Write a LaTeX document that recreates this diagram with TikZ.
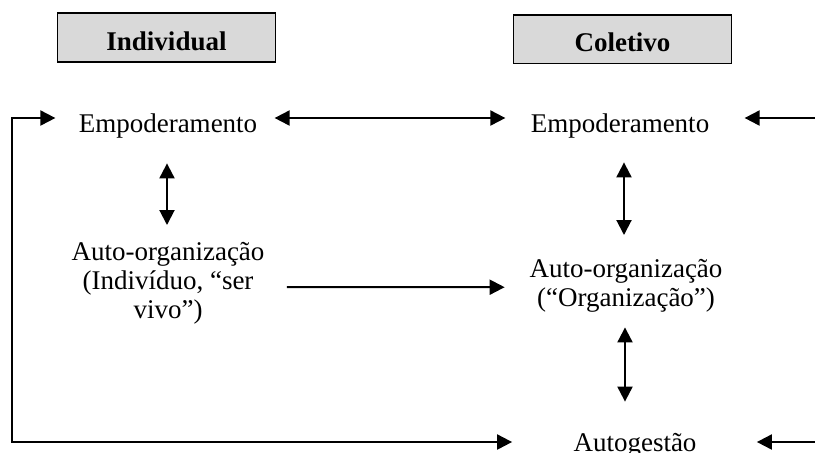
\documentclass[tikz,border=0pt]{standalone}
\usepackage{fontspec}
\setmainfont{Liberation Serif}
\usetikzlibrary{arrows.meta,calc}

\begin{document}
\begin{tikzpicture}[x=0.5pt,y=-0.5pt,
  txt/.style={inner sep=0pt,font=\fontsize{13.5}{14.5}\selectfont,
              text height=9.2pt,text depth=3pt},
  multi/.style={inner sep=0pt,align=center,font=\fontsize{13.5}{14.5}\selectfont},
  hdr/.style={draw,line width=0.8pt,fill=gray!30,inner sep=0pt,
              minimum width=109pt,minimum height=24.3pt,
              font=\fontsize{13.5}{14.5}\selectfont\bfseries,
              text height=12.5pt,text depth=0pt},
  tip/.style={line width=1pt,-{Triangle[length=7.5pt,width=7.5pt]}},
  tips/.style={line width=1pt,{Triangle[length=7.5pt,width=7.5pt]}-{Triangle[length=7.5pt,width=7.5pt]}}]

\useasboundingbox (0,0) rectangle (815,452);

% column headings
\node[hdr] (hI) at (166.5,37.5) {Individual};
\node[hdr] (hC) at (622.5,39) {Coletivo};

% texts
\node[txt,anchor=base] (empI) at (168,132) {Empoderamento};
\node[txt,anchor=base] (empC) at (620,132) {Empoderamento};
\node[multi,anchor=north] (aoI) at (168,241.6) {Auto-organização\\(Indivíduo, “ser\\vivo”)};
\node[multi,anchor=north] (aoC) at (626,258.6) {Auto-organização\\(“Organização”)};
\node[txt,anchor=base] (autog) at (635,451) {Autogestão};

% loop corners and free ends
\coordinate (cTL) at (12,118);
\coordinate (cBL) at (12,442);
\coordinate (rTop) at (818,118);
\coordinate (rBot) at (818,442);

% connectors
\draw[tips] ($(empI.east)+(17,-7.8)$) -- ($(empC.west)+(-25,-7.8)$);
\draw[tip] (rTop) -- ($(empC.east)+(35,-7.8)$);
\draw[tips] ($(empI.west)+(-23,-7.8)$) -- (cTL) -- (cBL) -- ($(autog.west)+(-61,-2.8)$);
\draw[tip] (rBot) -- ($(autog.east)+(60,-2.8)$);
\draw[tips] ($(empI.south)+(-1,25)$) -- ($(aoI.north)+(-1,-16.6)$);
\draw[tips] ($(empC.south)+(4,24)$) -- ($(aoC.north)+(-2,-23.6)$);
\draw[tips] ($(aoC.south)+(-1,15)$) -- ($(autog.north)+(-10,-30.6)$);
\draw[tip] ($(aoI.east)+(22,4.2)$) -- ($(aoC.west)+(-24.5,1.7)$);

\end{tikzpicture}
\end{document}
